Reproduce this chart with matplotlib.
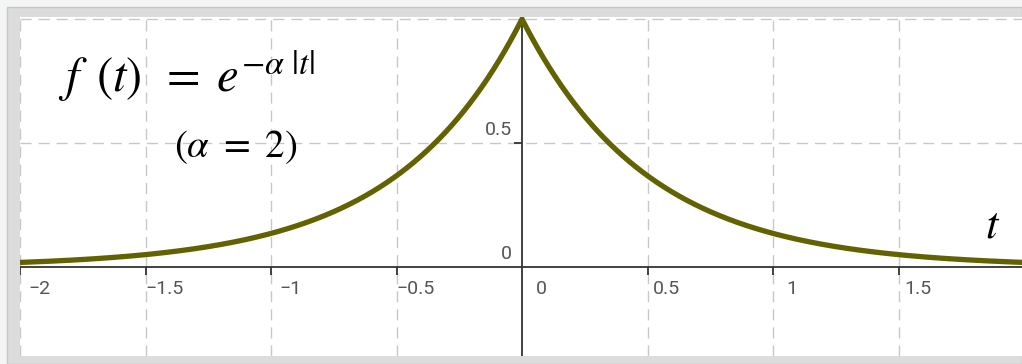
import numpy as np
import matplotlib
matplotlib.use("Agg")
import matplotlib.pyplot as plt
from matplotlib.patches import Rectangle
import matplotlib.transforms as mtransforms

plt.rcParams["mathtext.fontset"] = "stix"

alpha = 2
x_ticks = [-2, -1.5, -1, -0.5, 0, 0.5, 1, 1.5]
x_tick_labels = ["\u22122", "\u22121.5", "\u22121", "\u22120.5", "0", "0.5", "1", "1.5"]
y_ticks = [0, 0.5]
y_tick_labels = ["0", "0.5"]
grid_x = [-2, -1.5, -1, -0.5, 0.5, 1, 1.5]
grid_y = [0.5, 1.0]

t = np.linspace(-2, 2, 2001)
f = np.exp(-alpha * np.abs(t))

W, H = 1022, 364
fig = plt.figure(figsize=(W / 100, H / 100), dpi=100)
fig.patch.set_facecolor("#f3f4f4")
fig.patches.append(Rectangle((7 / W, 0), 1 - 7 / W, 1 - 7 / H, transform=fig.transFigure,
                             facecolor="#dcdcdc", edgecolor="#c6c6c6", lw=1.0, zorder=-1))

ax = fig.add_axes([20 / W, (H - 356) / H, (W - 20) / W, (356 - 17) / H])
ax.set_zorder(1)
ax.set_facecolor("white")
ax.set_xlim(-2.0, 1.992)
ax.set_ylim(-0.359, 1.008)
for s in ax.spines.values():
    s.set_visible(False)
ax.set_xticks([])
ax.set_yticks([])

# dashed grid
for gx in grid_x:
    ax.axvline(gx, color="#c8c8c8", lw=1.0, ls=(0, (8, 5)), zorder=1)
for gy in grid_y:
    ax.axhline(gy, color="#c8c8c8", lw=1.0, ls=(0, (8, 5)), zorder=1)

# axes through origin
ax.axhline(0, color="#333333", lw=1.3, zorder=2)
ax.axvline(0, color="#333333", lw=1.3, zorder=2)

# ticks and labels
for xt, lab in zip(x_ticks, x_tick_labels):
    if xt != 0:
        ax.plot([xt], [0], marker=3, ms=6, color="#333333", mew=1.3, zorder=2)
    tr = mtransforms.offset_copy(ax.transData, fig=fig, x=19, y=-22, units="dots")
    ax.text(xt, 0, lab, transform=tr, ha="center", va="center",
            fontsize=14, color="#555555", family="Roboto")
for yt, lab in zip(y_ticks, y_tick_labels):
    if yt != 0:
        ax.plot([0], [yt], marker=0, ms=6, color="#333333", mew=1.3, zorder=2)
    tr = mtransforms.offset_copy(ax.transData, fig=fig, x=-10, y=13, units="dots")
    ax.text(0, yt, lab, transform=tr, ha="right", va="center",
            fontsize=14, color="#555555", family="Roboto")

ax.plot(t, f, color="#626200", lw=3.8, solid_capstyle="butt", zorder=3)

fig.text(58 / W, 1 - 76 / H, r"$f\ \,(t)\ \,=\;e^{-\alpha\ |t|}$", fontsize=35,
         ha="left", va="center", color="black", zorder=5)
fig.text(236 / W, 1 - 147 / H, r"$(\alpha\ =\ 2)$", fontsize=28,
         ha="center", va="center", color="black", zorder=5)
fig.text(993 / W, 1 - 225 / H, r"$t$", fontsize=32,
         ha="center", va="center", color="black", zorder=5)

fig.savefig("out.png", dpi=100, facecolor=fig.get_facecolor())
